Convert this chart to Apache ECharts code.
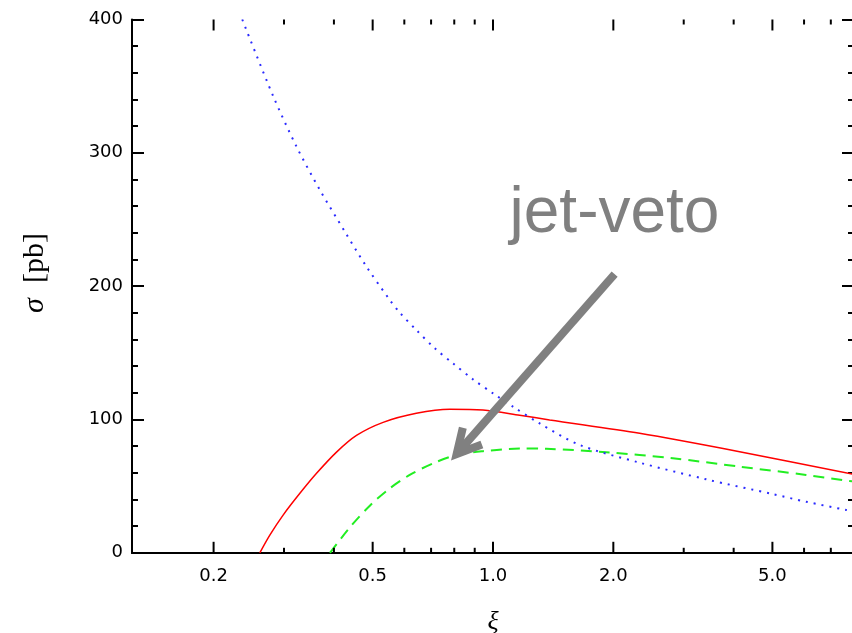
<!DOCTYPE html>
<html>
<head>
<meta charset="utf-8">
<script src="https://cdn.jsdelivr.net/npm/echarts@6/dist/echarts.min.js"></script>
<style>
  html, body { margin: 0; padding: 0; background: #fff; }
  #chart { width: 852px; height: 633px; }
</style>
</head>
<body>
<div id="chart"></div>
<script>
// xi values and cross sections [pb]
const redSolid = [
  [0.261, 0], [0.2765, 13.3], [0.2985, 28.3], [0.3288, 44.6], [0.3619, 59.6], [0.406, 75.5],
  [0.4555, 88], [0.531, 97.8], [0.643, 104.6], [0.78, 107.6], [0.944, 107.1],
  [1.166, 103.2], [1.386, 99.6], [2.327, 89.6], [4.14, 75.8], [8.0, 58.8]
];
const greenDashed = [
  [0.391, 0], [0.44, 19.6], [0.494, 35.9], [0.552, 48.4], [0.619, 58.4], [0.708, 67.1],
  [0.81, 73.4], [0.944, 76.2], [1.166, 78.2], [1.36, 78], [1.92, 75.4], [2.818, 70.9],
  [4.14, 64.6], [6.07, 58.4], [8.0, 53.4]
];
const blueDotted = [
  [0.2359, 400], [0.2818, 342.6], [0.3225, 304.6], [0.369, 272.1], [0.426, 240.8],
  [0.4826, 214.6], [0.552, 189.6], [0.585, 180], [0.643, 167.1], [0.715, 153.4],
  [0.794, 142.1], [0.891, 130.1], [1.0, 119.6], [1.122, 109.6], [1.309, 97],
  [1.647, 80.9], [2.327, 67.6], [3.416, 55.1], [5.0, 44.1], [6.07, 38.3],
  [7.65, 32.1], [8.0, 30.9]
];

const xMajor = [0.2, 0.5, 1.0, 2.0, 5.0];
const xMajorLabels = ['0.2', '0.5', '1.0', '2.0', '5.0'];
const xMinor = [0.3, 0.4, 0.6, 0.7, 0.8, 0.9, 3, 4, 6, 7];

const xMin = 0.125, xMax = 8;
const yMin = 0, yMax = 400;

// annotation: arrow from tail to tip, label anchor (data coords)
const arrowFrom = [2.015, 209.1];
const arrowTo = [0.811, 74.1];
const noteAt = [1.10, 254];
const noteText = 'jet-veto';

const tickData = xMajor.map((v, i) => [v, 1, i]).concat(xMinor.map(v => [v, 0, -1]));

const chart = echarts.init(document.getElementById('chart'));

function renderTick(params, api) {
  const v = api.value(0);
  const major = api.value(1) === 1;
  const b = api.coord([v, yMin]);
  const t = api.coord([v, yMax]);
  const len = major ? 11 : 5;
  const style = { stroke: '#000', lineWidth: 2 };
  const children = [
    { type: 'line', shape: { x1: b[0], y1: b[1], x2: b[0], y2: b[1] - len }, style: style },
    { type: 'line', shape: { x1: t[0], y1: t[1], x2: t[0], y2: t[1] + len }, style: style }
  ];
  if (major) {
    children.push({
      type: 'text',
      style: {
        text: xMajorLabels[api.value(2)],
        x: b[0], y: b[1] + 15,
        align: 'center', verticalAlign: 'top',
        font: '18px "DejaVu Sans"', fill: '#000'
      }
    });
  }
  return { type: 'group', children: children };
}

function renderNote(params, api) {
  const tail = api.coord(arrowFrom);
  const tip = api.coord(arrowTo);
  const ang = Math.atan2(tail[1] - tip[1], tail[0] - tip[0]);
  const spread = 28 * Math.PI / 180, armLen = 27;
  const a1 = [tip[0] + armLen * Math.cos(ang - spread), tip[1] + armLen * Math.sin(ang - spread)];
  const a2 = [tip[0] + armLen * Math.cos(ang + spread), tip[1] + armLen * Math.sin(ang + spread)];
  const lbl = api.coord(noteAt);
  const grey = '#808080';
  return {
    type: 'group',
    children: [
      { type: 'line', shape: { x1: tail[0], y1: tail[1], x2: tip[0], y2: tip[1] },
        style: { stroke: grey, lineWidth: 8 } },
      { type: 'polyline', shape: { points: [a1, tip, a2] },
        style: { stroke: grey, lineWidth: 8, fill: null, lineJoin: 'miter' } },
      { type: 'text',
        style: { text: noteText, x: lbl[0], y: lbl[1], align: 'left', verticalAlign: 'middle',
                 font: '64px "Liberation Sans"', fill: grey } }
    ]
  };
}

chart.setOption({
  animation: false,
  grid: { left: 132, right: -2, top: 19.5, bottom: 80.2, outerBoundsMode: 'none', containLabel: false },
  xAxis: [
    {
      type: 'log', logBase: 10, min: xMin, max: xMax,
      axisLine: { lineStyle: { color: '#000', width: 2 } },
      axisTick: { show: false },
      axisLabel: { show: false },
      splitLine: { show: false },
      name: 'ξ', nameLocation: 'middle', nameGap: 56,
      nameTextStyle: { fontFamily: 'Liberation Serif', fontStyle: 'italic', fontSize: 26, color: '#000' }
    },
    {
      type: 'log', logBase: 10, min: xMin, max: xMax, position: 'top',
      axisLine: { lineStyle: { color: '#000', width: 2 } },
      axisTick: { show: false },
      axisLabel: { show: false },
      splitLine: { show: false }
    }
  ],
  yAxis: [
    {
      type: 'value', min: yMin, max: yMax, interval: 100,
      axisLine: { show: true, lineStyle: { color: '#000', width: 2 } },
      axisTick: { inside: true, length: 12, lineStyle: { color: '#000', width: 2 } },
      minorTick: { show: true, splitNumber: 5, length: 6, lineStyle: { color: '#000', width: 2 } },
      axisLabel: { margin: 9, fontFamily: 'DejaVu Sans', fontSize: 18, color: '#000' },
      splitLine: { show: false }
    },
    {
      type: 'value', min: yMin, max: yMax, interval: 100, position: 'right',
      axisLine: { show: true, lineStyle: { color: '#000', width: 2 } },
      axisTick: { inside: true, length: 12, lineStyle: { color: '#000', width: 2 } },
      minorTick: { show: true, splitNumber: 5, length: 6, lineStyle: { color: '#000', width: 2 } },
      axisLabel: { show: false },
      splitLine: { show: false }
    }
  ],
  graphic: [
    {
      type: 'text', x: 35, y: 273, rotation: Math.PI / 2,
      style: {
        text: '{i|σ}  [pb]', align: 'center', verticalAlign: 'middle',
        font: '30px "Liberation Serif"', fill: '#000',
        rich: { i: { fontStyle: 'italic', fontSize: 30, fontFamily: 'Liberation Serif' } }
      }
    }
  ],
  series: [
    {
      type: 'line', data: redSolid, showSymbol: false, smooth: 0.3,
      lineStyle: { color: '#ff0000', width: 1.5 }
    },
    {
      type: 'line', data: greenDashed, showSymbol: false, smooth: 0.3,
      lineStyle: { color: '#22ee22', width: 2, type: [11, 7] }
    },
    {
      type: 'line', data: blueDotted, showSymbol: false, smooth: 0.3,
      lineStyle: { color: '#2a2aff', width: 2, type: [2, 6] }
    },
    {
      type: 'custom', data: tickData, renderItem: renderTick, silent: true, z: 5
    },
    {
      type: 'custom', data: [[1, 1]], renderItem: renderNote, silent: true, z: 10
    }
  ]
});
</script>
</body>
</html>
